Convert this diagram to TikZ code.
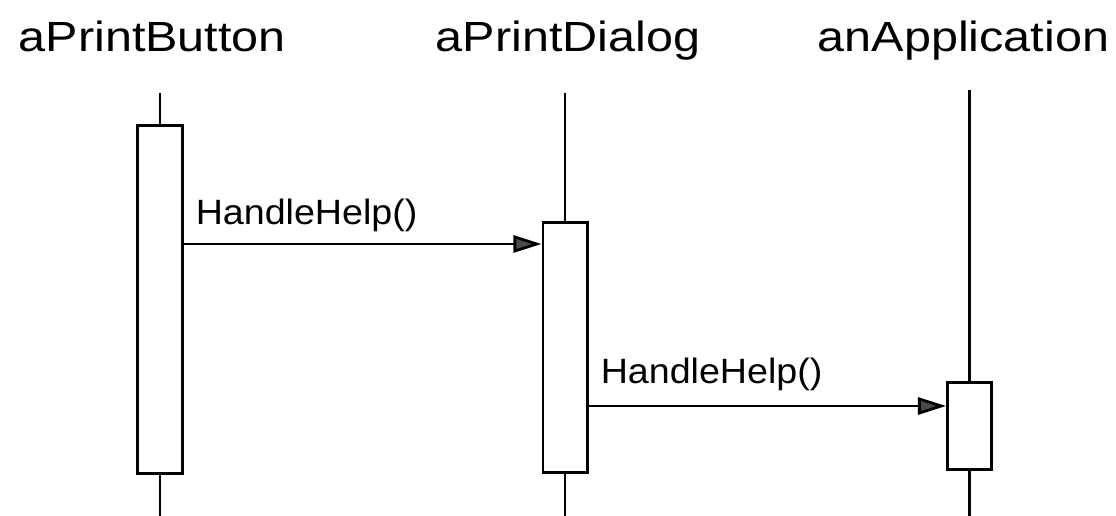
\documentclass[tikz,border=0pt]{standalone}
\usepackage{fontspec}
\setmainfont{Liberation Sans}
\usetikzlibrary{positioning,arrows.meta}

\begin{document}
\begin{tikzpicture}[
    x=0.01cm, y=-0.01cm,
    objname/.style={anchor=base west,inner sep=0pt,font=\fontsize{12}{14}\selectfont,xscale=1.15,transform shape},
    activation/.style={draw,line width=0.85pt,minimum width=0.44cm,inner sep=0pt,fill=white},
    lifeline/.style={line width=0.8pt},
    msg/.style={line width=0.8pt,-{Triangle[length=0.28cm,width=0.17cm,fill=black!70]}},
    msglabel/.style={anchor=base west,inner sep=0pt,font=\fontsize{10}{12}\selectfont,xscale=1.07,transform shape}
    ]
    \useasboundingbox (0,0) rectangle (1116,516);

    % objects
    \node[objname] (btnname) at (18,52) {aPrintButton};
    \node[objname] (dlgname) at (435,52) {aPrintDialog};
    \node[objname] (appname) at (817,52) {anApplication};

    % activation boxes
    \node[activation, minimum height=3.47cm] (btn) at (160,299.5) {};
    \node[activation, minimum height=2.49cm] (dlg) at (565,347.5) {};
    \node[activation, minimum height=0.86cm] (app) at (969.5,426) {};

    % lifelines
    \coordinate (btntop) at (160,93);
    \coordinate (btnend) at (160,516);
    \coordinate (dlgtop) at (565,93);
    \coordinate (dlgend) at (565,516);
    \coordinate (apptop) at (969.5,90);
    \coordinate (append) at (969.5,516);
    \draw[lifeline] (btntop) -- (btn) (btn) -- (btnend);
    \draw[lifeline] (dlgtop) -- (dlg) (dlg) -- (dlgend);
    \draw[lifeline] (apptop) -- (app) (app) -- (append);

    % messages
    \coordinate (call1) at (0,244);
    \coordinate (call2) at (0,406);
    \draw[msg] (btn.east |- call1) -- (dlg.west |- call1);
    \draw[msg] (dlg.east |- call2) -- (app.west |- call2);
    \node[msglabel] (call1label) at (195,225) {HandleHelp()};
    \node[msglabel] (call2label) at (600,384) {HandleHelp()};

  \end{tikzpicture}
\end{document}
